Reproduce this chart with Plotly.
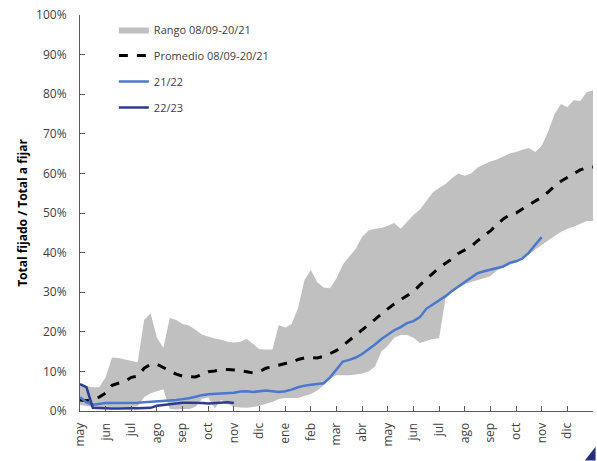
import plotly.graph_objects as go

# Month tick labels (two seasons, May to December of the following year)
month_labels = ["may", "jun", "jul", "ago", "sep", "oct", "nov", "dic", "ene", "feb",
                "mar", "abr", "may", "jun", "jul", "ago", "sep", "oct", "nov", "dic"]

# x grid in months since 1 May (quarter-month steps)
x_months = [i * 0.25 for i in range(81)]

rango_max = [6.5, 6.3, 6.0, 6.0, 8.5, 13.5, 13.4, 13.0, 12.7, 12.3,
             23.0, 24.7, 18.5, 16.0, 23.5, 23.0, 22.0, 21.6, 20.5, 19.3,
             18.8, 18.3, 18.0, 17.5, 17.3, 17.5, 18.2, 17.0, 15.6, 15.5,
             15.5, 21.7, 21.0, 22.0, 26.0, 33.0, 35.6, 32.5, 31.2, 31.0,
             33.5, 37.0, 39.0, 41.0, 44.0, 45.6, 46.0, 46.2, 46.8, 47.5,
             46.0, 47.8, 49.5, 50.8, 53.0, 55.2, 56.3, 57.3, 58.8, 60.0,
             59.4, 60.0, 61.5, 62.3, 63.0, 63.5, 64.2, 65.0, 65.4, 66.0,
             66.4, 65.4, 67.0, 70.5, 75.0, 77.5, 76.7, 78.5, 78.3, 80.5,
             81.0]

rango_min = [1.5, 1.2, 1.0, 1.0, 1.0, 1.0, 1.0, 1.0, 1.0, 1.2,
             3.5, 4.5, 5.0, 5.5, 0.5, 0.4, 0.5, 0.5, 1.0, 3.0,
             3.5, 0.6, 2.8, 1.8, 1.0, 0.9, 0.8, 1.0, 1.3, 1.8,
             2.3, 3.0, 3.3, 3.3, 3.3, 3.8, 4.3, 5.2, 6.5, 8.3,
             9.0, 9.0, 9.0, 9.2, 9.5, 10.0, 11.2, 15.0, 16.5, 18.5,
             19.2, 19.2, 18.5, 17.2, 17.8, 18.2, 18.4, 28.5, 30.0, 31.0,
             32.0, 32.6, 33.0, 33.5, 34.0, 35.5, 36.3, 37.0, 37.6, 38.8,
             39.5, 40.8, 42.0, 43.0, 44.2, 45.2, 46.0, 46.5, 47.3, 48.0,
             48.0]

promedio = [2.8, 2.6, 3.0, 3.5, 4.5, 6.5, 7.0, 7.5, 8.5, 8.8,
            10.8, 11.8, 11.8, 11.0, 10.2, 9.3, 8.8, 8.7, 8.6, 9.2,
            9.9, 10.1, 10.5, 10.5, 10.4, 10.2, 9.9, 9.6, 10.0, 10.8,
            11.2, 11.6, 12.0, 12.2, 13.0, 13.4, 13.5, 13.4, 13.8, 14.5,
            15.3, 16.5, 17.9, 19.3, 20.5, 21.8, 23.2, 24.5, 25.8, 27.0,
            28.0, 29.0, 30.2, 31.8, 33.3, 34.8, 36.2, 37.3, 38.4, 39.8,
            40.7, 41.5, 43.0, 44.2, 45.5, 47.0, 48.5, 49.5, 50.0, 51.0,
            52.0, 53.0, 54.0, 55.3, 56.8, 58.0, 59.0, 60.0, 60.9, 61.4,
            61.6]

s2122 = [3.5, 2.2, 1.6, 1.8, 2.0, 2.0, 2.0, 2.0, 2.0, 2.1,
         2.2, 2.3, 2.4, 2.5, 2.6, 2.8, 3.0, 3.2, 3.6, 4.0,
         4.2, 4.3, 4.4, 4.5, 4.6, 4.9, 5.0, 4.8, 5.0, 5.2,
         5.0, 4.8, 5.0, 5.4, 6.0, 6.4, 6.6, 6.8, 7.0, 8.5,
         10.5, 12.5, 12.9, 13.5, 14.4, 15.5, 16.8, 18.2, 19.3, 20.4,
         21.2, 22.2, 22.7, 23.7, 25.8, 26.8, 27.8, 29.0, 30.3, 31.4,
         32.5, 33.6, 34.8, 35.3, 35.7, 36.0, 36.5, 37.4, 37.8, 38.5,
         40.0, 42.0, 43.9]

s2223 = [6.8, 6.0, 0.8, 0.7, 0.6, 0.6, 0.6, 0.7, 0.7, 0.7,
         0.7, 0.8, 1.3, 1.5, 1.8, 2.0, 2.1, 2.1, 2.1, 2.0,
         1.9, 2.0, 2.1, 2.2, 2.0]

font_family = "Open Sans, Noto Sans, sans-serif"

fig = go.Figure()
fig.add_trace(go.Scatter(x=x_months, y=rango_min, mode="lines",
                         line=dict(width=0, color="#c0c0c0"),
                         showlegend=False, hoverinfo="skip"))
fig.add_trace(go.Scatter(x=x_months, y=rango_max, mode="lines", fill="tonexty",
                         fillcolor="#c0c0c0", line=dict(width=0, color="#c0c0c0"),
                         name="Rango 08/09-20/21", legendgroup="a"))
fig.add_trace(go.Scatter(x=x_months, y=promedio, mode="lines",
                         line=dict(color="black", width=3, dash="dash"),
                         name="Promedio 08/09-20/21", legendgroup="b"))
fig.add_trace(go.Scatter(x=x_months[:len(s2122)], y=s2122, mode="lines",
                         line=dict(color="#4a78cf", width=2.5),
                         name="21/22", legendgroup="c"))
fig.add_trace(go.Scatter(x=x_months[:len(s2223)], y=s2223, mode="lines",
                         line=dict(color="#2c3b92", width=2.5),
                         name="22/23", legendgroup="d"))

fig.update_layout(
    width=597, height=461,
    margin=dict(l=80, r=4, t=15, b=50, autoexpand=False),
    plot_bgcolor="white", paper_bgcolor="white",
    font=dict(family=font_family, size=12, color="#404040"),
    showlegend=True,
    legend=dict(x=0.066, y=1.0, xanchor="left", yanchor="top",
                bgcolor="rgba(0,0,0,0)", font=dict(size=11, color="#404040"),
                tracegroupgap=7),
    xaxis=dict(range=[0, 20], tickmode="array", automargin=False,
               tickvals=list(range(len(month_labels))), ticktext=month_labels,
               tickangle=-90, showgrid=False, zeroline=False,
               showline=True, linecolor="#595959", linewidth=1,
               ticks="inside", ticklen=5, tickcolor="#595959",
               ticklabelstandoff=6, ticklabeloverflow="allow",
               tickfont=dict(size=12, color="#404040")),
    yaxis=dict(range=[0, 100], dtick=10, ticksuffix="%", automargin=False,
               showgrid=False, zeroline=False,
               showline=True, linecolor="#595959", linewidth=1,
               ticks="inside", ticklen=5, tickcolor="#595959",
               ticklabelstandoff=10, ticklabeloverflow="allow",
               tickfont=dict(size=12, color="#404040"),
               title=dict(text="<b>Total fijado / Total a fijar</b>",
                          font=dict(size=12, color="black"), standoff=5)),
    shapes=[dict(type="path", xref="paper", yref="paper", layer="above",
                 path="M1.005 -0.09 L0.984 -0.125 L1.005 -0.125 Z",
                 fillcolor="#26307a", line=dict(width=0))],
)

fig.write_html("out.html", config={"displayModeBar": False},
               post_script="document.body.style.margin='0';document.body.style.overflow='hidden';")
